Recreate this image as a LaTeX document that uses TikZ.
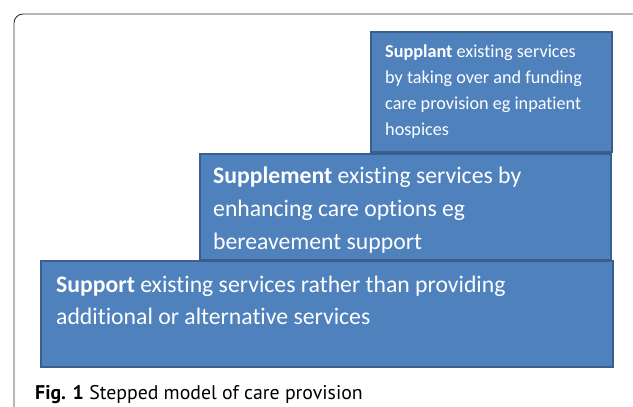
\documentclass[tikz,border=0pt]{standalone}
\usepackage{fontspec}
\setmainfont{Carlito}[Ligatures=NoCommon]
\newfontfamily\capfont{PT Sans}
\definecolor{stepfill}{HTML}{4F81BD}
\definecolor{stepline}{HTML}{3A5F8E}
\tikzset{
  stepbox/.style={draw=stepline, line width=1.6pt, fill=stepfill, anchor=north west, inner sep=0pt},
  steptext/.style={text=white, anchor=base west, inner sep=0pt}
}
\begin{document}
\begin{tikzpicture}[x=1pt,y=-1pt]
    \useasboundingbox (0,0) rectangle (633,407);
    % outer frame
    \draw[line width=0.9pt, black!80, rounded corners=9pt] (14,407)--(14,14)--(640,14);
    % the three steps
    \node[stepbox, minimum width=241pt, minimum height=120pt](supplant) at (370,31) {};
    \node[stepbox, minimum width=411pt, minimum height=106pt](supplement) at (199,153) {};
    \node[stepbox, minimum width=572pt, minimum height=106pt](support) at (40,260) {};
    \node[steptext, font=\fontsize{18.2}{26}\selectfont](t3) at (385,57)
        {\vtop{\hbox{\textbf{Supplant} existing services}\hbox{by taking over and funding}
               \hbox{care provision eg inpatient}\hbox{hospices}}};
    \node[steptext, font=\fontsize{23.7}{33}\selectfont](t2) at (213,183)
        {\vtop{\hbox{\textbf{Supplement} existing services by}\hbox{enhancing care options eg}
               \hbox{bereavement support}}};
    \node[steptext, font=\fontsize{23.7}{32}\selectfont](t1) at (56,292)
        {\vtop{\hbox{\textbf{Support} existing services rather than providing}
               \hbox{additional or alternative services}}};
    % caption
    \node[anchor=base west, inner sep=0pt, font=\capfont\fontsize{19.8}{24}\selectfont](cap) at (35,399)
        {\textbf{Fig. 1} Stepped model of care provision};
\end{tikzpicture}
\end{document}
